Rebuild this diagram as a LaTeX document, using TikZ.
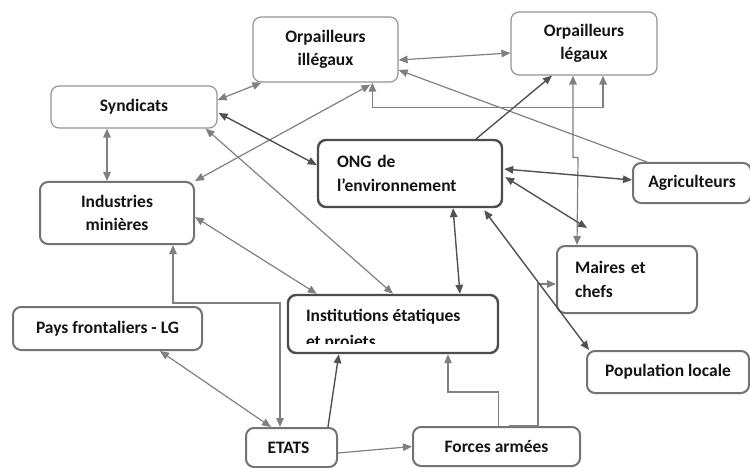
\documentclass[tikz,border=0pt]{standalone}
\usepackage{fontspec}
\setmainfont{Carlito}
\usetikzlibrary{arrows.meta,calc}
\begin{document}
\begin{tikzpicture}[x=1pt,y=-1pt,
  >={Triangle[length=9pt,width=7.5pt]},
  txt/.style={font=\fontsize{17.5}{23.5}\selectfont\bfseries, text=black!92},
  box/.style={txt, draw, rounded corners=8pt, fill=white, inner sep=0pt, align=center},
  thinbox/.style={box, draw=black!42, line width=1.2pt},
  midbox/.style={box, draw=black!55, line width=2pt},
  darkbox/.style={box, draw=black!70, line width=2.4pt},
  con/.style={draw=black!50, line width=1.2pt},
  dcon/.style={draw=black!68, line width=1.4pt},
]
\useasboundingbox (0,0) rectangle (750,468);

% boxes
\node[thinbox, minimum width=145, minimum height=65] (oi) at (325.5,49.5) {Orpailleurs\\illégaux};
\node[thinbox, minimum width=146, minimum height=63] (ol) at (584,43.5) {Orpailleurs\\légaux};
\node[thinbox, minimum width=166, minimum height=42] (syn) at (134,107) {Syndicats};
\node[midbox, minimum width=154, minimum height=62] (ind) at (117,213) {Industries\\minières};
\node[darkbox, align=left, text width=146, inner xsep=19, minimum height=67] (ong) at (410,173.5) {ONG de\\l’environnement};
\node[midbox, minimum width=118, minimum height=40] (agr) at (692,183) {Agriculteurs};
\node[midbox, align=left, text width=104, inner xsep=18, minimum height=67] (mai) at (627,279.5) {Maires et\\chefs};
\node[midbox, minimum width=162, minimum height=42] (pop) at (668,372) {Population locale};
\node[darkbox, minimum width=210, minimum height=58] (inst) at (393,324) {};
\node[midbox, minimum width=189, minimum height=43] (pays) at (107.5,328.5) {Pays frontaliers - LG};
\node[midbox, minimum width=91, minimum height=39] (eta) at (291.5,447.5) {ETATS\hspace*{6pt}};
\node[midbox, minimum width=167, minimum height=39] (fa) at (496.5,446.5) {Forces armées};

\begin{scope}
  \clip ($(inst.north west)+(2,2)$) rectangle ($(inst.south east)+(-2,-11)$);
  \node[txt, anchor=base west, inner sep=0pt] (instl1) at ($(inst.north west)+(19,28)$) {Institutions étatiques};
  \node[txt, anchor=base west, inner sep=0pt] (instl2) at ($(inst.north west)+(19,54)$) {et projets};
\end{scope}

\coordinate (mfree) at ($(mai.north west)+(31,-17)$);

% gray connectors
\draw[con,<->] ($(oi.south west)+(9,0)$) -- ($(syn.east)+(0,-7)$);
\draw[con,<->] ($(oi.east)+(0,10.5)$) -- ($(ol.west)+(0,9.5)$);
\draw[con,<->] ($(syn.south)+(-27,0)$) -- ($(ind.north)+(-10,0)$);
\draw[con,<->] ($(oi.south west)+(118,2)$) -- (ind.north east);
\draw[con,<->] ($(syn.south east)+(-12,0)$) -- (inst.north);
\draw[con,<->] ($(ind.east)+(0,4)$) -- ($(inst.north west)+(30,0)$);
\draw[con,->] ($(agr.north west)+(15,0)$) -- ($(oi.east)+(0,20.5)$);
\draw[con,<->] ($(oi.south west)+(120,0)$) -- ++(0,25) -| ($(ol.south)+(19,0)$);
\draw[con,<->] ($(ol.south)+(-11,0)$) -- ++(0,82) -- ++(5,0) -- ($(mai.north west)+(21,0)$);
\draw[con,->] ($(fa.north west)+(97,0)$) -- ($(fa.north west)+(126,0)$) |- ($(mai.west)+(0,4.5)$);
\draw[con,->] ($(fa.north)+(2,0)$) -- ++(0,-34) -| ($(inst.south)+(55,0)$);
\draw[con,->] ($(eta.east)+(0,5.5)$) -- (fa.west);
\draw[con,<->] ($(pays.south)+(52.5,0)$) -- ($(eta.north west)+(26,0)$);
\draw[con,<->] ($(ind.south)+(56,0)$) -- ++(0,58) -| ($(eta.north west)+(35,0)$);

% dark connectors
\draw[dcon,<->] ($(syn.east)+(1,6)$) -- ($(ong.west)+(0,-8.5)$);
\draw[dcon,<->] ($(ong.south)+(43,0)$) -- ($(inst.north)+(67,0)$);
\draw[dcon,->] ($(ong.north east)+(-27,0)$) -- ($(ol.south)+(-32,0)$);
\draw[dcon,<->] ($(ong.east)+(1,-4.5)$) -- ($(agr.west)+(0,-3)$);
\draw[dcon,<->] ($(ong.east)+(2,3.5)$) -- (mfree);
\draw[dcon,<->] ($(pop.north west)+(3,0)$) -- ($(ong.south east)+(-19,2)$);
\draw[dcon,->] ($(eta.north east)+(-10,0)$) -- ($(inst.south west)+(52,0)$);
\end{tikzpicture}
\end{document}
